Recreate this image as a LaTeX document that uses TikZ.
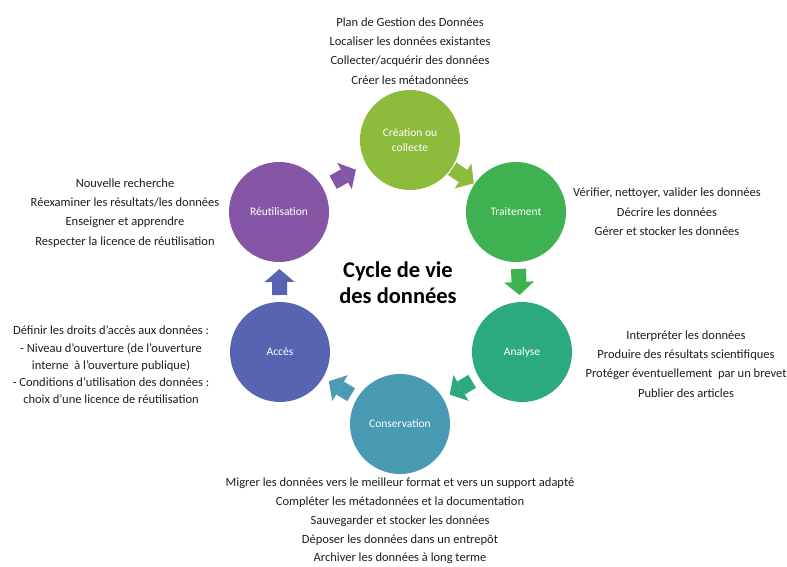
\documentclass[tikz,border=0pt]{standalone}
\usepackage{fontspec}
\setmainfont{Carlito}
\usetikzlibrary{arrows.meta,calc}
\definecolor{cCrea}{RGB}{141,187,60}
\definecolor{cTrai}{RGB}{62,178,80}
\definecolor{cAnal}{RGB}{45,170,125}
\definecolor{cCons}{RGB}{72,155,178}
\definecolor{cAcc}{RGB}{86,100,178}
\definecolor{cReut}{RGB}{134,86,166}
\definecolor{txt}{RGB}{30,30,30}
\begin{document}
\begin{tikzpicture}[x=1pt,y=-1pt,
  stage/.style={circle, fill=#1, minimum size=100pt, inner sep=0pt, text=white,
    font=\fontsize{11.5}{15}\selectfont, align=center},
  info/.style={align=center, text=txt, inner sep=0pt,
    font=\fontsize{12.5}{19.3}\selectfont},
  flow/.style={draw=#1, line width=15pt,
    -{Triangle[width=30pt,length=13pt,line width=0pt]}},
  title/.style={align=center, text=black, inner sep=0pt,
    font=\fontsize{22.5}{26}\selectfont\bfseries}]
\useasboundingbox (0,0) rectangle (787,567);
\fill[white] (0,0) rectangle (787,567);

% stages
\node[stage=cCrea] (crea) at (410,140) {Création ou\\collecte};
\node[stage=cTrai] (trai) at (516,212) {Traitement};
\node[stage=cAnal] (anal) at (522,352) {Analyse};
\node[stage=cCons] (cons) at (400,424) {Conservation};
\node[stage=cAcc]  (acc)  at (280,352) {Accès};
\node[stage=cReut] (reut) at (279,212) {Réutilisation};

% title
\node[title] (ttl) at (398,283) {Cycle de vie\\des données};

% flow arrows
\draw[flow=cReut] ($(reut.center)!0.5!(crea.center)!13pt!(reut.center)$) -- ($(reut.center)!0.5!(crea.center)!13pt!(crea.center)$);
\draw[flow=cCrea] ($(crea.center)!0.5!(trai.center)!13pt!(crea.center)$) -- ($(crea.center)!0.5!(trai.center)!13pt!(trai.center)$);
\draw[flow=cTrai] ($(trai.center)!0.5!(anal.center)!13pt!(trai.center)$) -- ($(trai.center)!0.5!(anal.center)!13pt!(anal.center)$);
\draw[flow=cAnal] ($(anal.center)!0.5!(cons.center)!13pt!(anal.center)$) -- ($(anal.center)!0.5!(cons.center)!13pt!(cons.center)$);
\draw[flow=cCons] ($(cons.center)!0.5!(acc.center)!13pt!(cons.center)$) -- ($(cons.center)!0.5!(acc.center)!13pt!(acc.center)$);
\draw[flow=cAcc]  ($(acc.center)!0.5!(reut.center)!13pt!(acc.center)$) -- ($(acc.center)!0.5!(reut.center)!13pt!(reut.center)$);

% descriptions
\node[info] (tcrea) at (410,51) {Plan de Gestion des Données\\Localiser les données existantes\\Collecter/acquérir des données\\Créer les métadonnées};
\node[info] (ttrai) at (667,212) {Vérifier, nettoyer, valider les données\\Décrire les données\\Gérer et stocker les données};
\node[info] (tanal) at (686,364) {Interpréter les données\\Produire des résultats scientifiques\\Protéger éventuellement~ par un brevet\\Publier des articles};
\node[info, font=\fontsize{12.5}{18.8}\selectfont] (tcons) at (400,521) {Migrer les données vers le meilleur format et vers un support adapté\\Compléter les métadonnées et la documentation\\Sauvegarder et stocker les données\\Déposer les données dans un entrepôt\\Archiver les données à long terme};
\node[info, font=\fontsize{12.5}{17.3}\selectfont] (tacc) at (111,365) {Définir les droits d’accès aux données :\\- Niveau d’ouverture (de l’ouverture\\interne~ à l’ouverture publique)\\- Conditions d’utilisation des données :\\choix d’une licence de réutilisation};
\node[info] (treut) at (125,213) {Nouvelle recherche\\Réexaminer les résultats/les données\\Enseigner et apprendre\\Respecter la licence de réutilisation};
\end{tikzpicture}
\end{document}
